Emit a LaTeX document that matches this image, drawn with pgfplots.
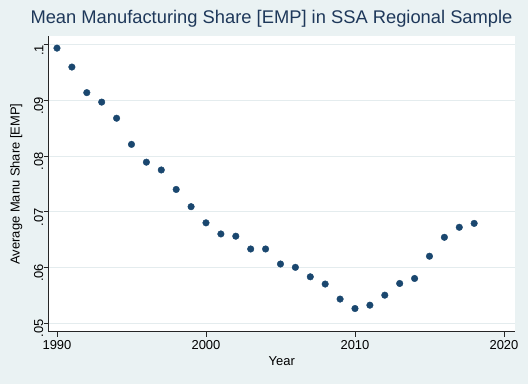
\documentclass[border=0pt]{standalone}
\usepackage{fontspec}
\setmainfont{Liberation Sans}
\usepackage{pgfplots}
\pgfplotsset{compat=1.18}
\definecolor{bgcol}{RGB}{234,242,243}
\definecolor{gridcol}{RGB}{228,236,238}
\definecolor{navy}{RGB}{26,71,111}
\definecolor{titlecol}{RGB}{30,56,90}
\begin{document}
\begin{tikzpicture}
\fill[bgcol] (0,0) rectangle (528bp,384bp);
\begin{axis}[
  at={(48.5bp,52.5bp)}, anchor=south west,
  scale only axis, width=466.5bp, height=295bp,
  xmin=1989.43, xmax=2020.74, ymin=0.04847, ymax=0.10149,
  axis background/.style={fill=white},
  axis x line*=bottom, axis y line*=left,
  axis line style={line width=0.8pt, black!85},
  every tick/.style={line width=0.8pt, black!85},
  tick align=outside, major tick length=5bp,
  xtick={1990,2000,2010,2020}, xticklabels={1990,2000,2010,2020},
  ytick={0.05,0.06,0.07,0.08,0.09,0.1},
  yticklabels={.05,.06,.07,.08,.09,.1},
  minor tick num=0,
  ymajorgrids, grid style={gridcol, line width=0.8pt},
  /pgf/number format/assume math mode=true,
  ticklabel style={font=\fontsize{13}{15}\selectfont, inner sep=0pt},
  xticklabel style={anchor=north, yshift=-3.8bp},
  yticklabel style={rotate=90, anchor=south, xshift=-5.5bp},
  xlabel={Year}, ylabel={Average Manu Share [EMP]},
  label style={font=\fontsize{13}{15}\selectfont, inner sep=0pt},
  xlabel style={at={(axis description cs:0.5,0)}, anchor=base, yshift=-33.5bp},
  ylabel style={at={(axis description cs:-0.062,0.5)}, anchor=base, rotate=0},
  clip=false,
]
\addplot[only marks, mark=*, mark size=3.3bp, mark options={draw=navy, fill=navy}]
coordinates {
(1990,0.0994) (1991,0.0960) (1992,0.0914) (1993,0.0897) (1994,0.0868)
(1995,0.0821) (1996,0.0789) (1997,0.0775) (1998,0.0740) (1999,0.0709)
(2000,0.0680) (2001,0.0660) (2002,0.0656) (2003,0.0633) (2004,0.0633)
(2005,0.0606) (2006,0.0600) (2007,0.0583) (2008,0.0570) (2009,0.0543)
(2010,0.0526) (2011,0.0532) (2012,0.0550) (2013,0.0571) (2014,0.0580)
(2015,0.0620) (2016,0.0654) (2017,0.0672) (2018,0.0679)
};
\end{axis}
\node[anchor=base, inner sep=0pt, text=titlecol, font=\fontsize{18.4}{21}\selectfont] at (271.5bp,360.3bp) {Mean Manufacturing Share [EMP] in SSA Regional Sample};
\pgfresetboundingbox
\useasboundingbox (0,0) rectangle (528bp,384bp);
\end{tikzpicture}
\end{document}
